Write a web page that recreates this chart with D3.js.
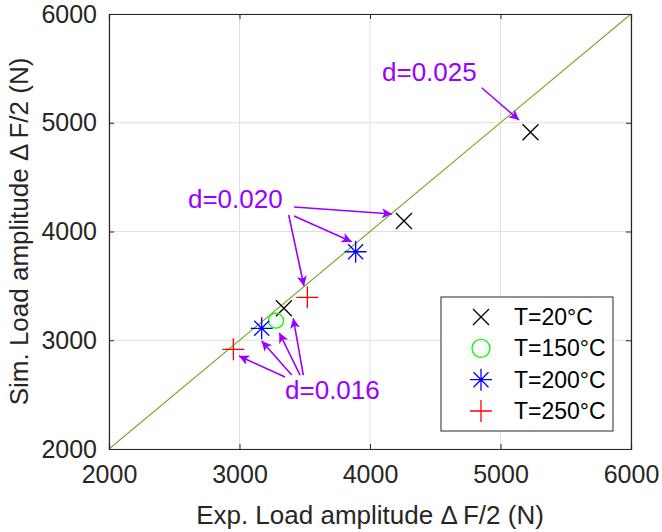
<!DOCTYPE html>
<html><head><meta charset="utf-8">
<script src="https://cdn.jsdelivr.net/npm/d3@7"></script>
<style>body{margin:0;background:#fff}svg{display:block}text{font-family:"Liberation Sans",Arial,sans-serif;}</style>
</head><body><div id="chart"></div>
<script>
// ---- data ----
const xTicks = [2000, 3000, 4000, 5000, 6000];
const yTicks = [2000, 3000, 4000, 5000, 6000];
const seriesNames = ["T=20°C", "T=150°C", "T=200°C", "T=250°C"];
const seriesMarkers = ["x", "o", "*", "+"];
const seriesColors = ["#000000", "#00ff00", "#0000ff", "#ff0000"];
const expT20 = [5230, 4260, 3340];
const simT20 = [4912, 4097, 3295];
const expT150 = [3280];
const simT150 = [3180];
const expT200 = [3170, 3890];
const simT200 = [3110, 3814];
const expT250 = [3520, 2953];
const simT250 = [3395, 2917];
const annLabels = ["d=0.025", "d=0.020", "d=0.016"];
const annTextX = [4092, 2605, 3349];
const annTextY = [5384, 4216, 2460];
// arrows: start (x0,y0) -> tip (x1,y1), data units
const arrX0 = [4856, 3418, 3418, 3377, 3349, 3400, 3464, 3489];
const arrY0 = [5322, 4225, 4142, 4152, 2662, 2680, 2680, 2680];
const arrX1 = [5142, 4169, 3860, 3494, 2996, 3170, 3305, 3412];
const arrY1 = [5025, 4161, 3906, 3499, 2855, 2993, 3069, 3202];

const W = 662, H = 532;
const m = {l: 109, t: 14, r: 31, b: 83};
const axisCol = "#262626";
const annCol = "#9900ff";

const svg = d3.select("#chart").append("svg").attr("width", W).attr("height", H);
const x = d3.scaleLinear().domain([2000, 6000]).range([m.l, W - m.r]);
const y = d3.scaleLinear().domain([2000, 6000]).range([H - m.b, m.t]);

// grid
svg.append("g").selectAll("line").data(xTicks).join("line")
  .attr("x1", d => x(d)).attr("x2", d => x(d)).attr("y1", y(2000)).attr("y2", y(6000))
  .attr("stroke", "#dfdfdf").attr("stroke-width", 1);
svg.append("g").selectAll("line").data(yTicks).join("line")
  .attr("y1", d => y(d)).attr("y2", d => y(d)).attr("x1", x(2000)).attr("x2", x(6000))
  .attr("stroke", "#dfdfdf").attr("stroke-width", 1);

// diagonal
svg.append("line").attr("x1", x(2000)).attr("y1", y(2000)).attr("x2", x(6000)).attr("y2", y(6000))
  .attr("stroke", "#77ac30").attr("stroke-width", 1.2);

// axes
const tl = 5;
const gx = svg.append("g").attr("transform", `translate(0,${y(2000)})`)
  .call(d3.axisBottom(x).tickValues(xTicks).tickSize(-tl).tickPadding(16).tickFormat(d3.format("d")));
const gx2 = svg.append("g").attr("transform", `translate(0,${y(6000)})`)
  .call(d3.axisTop(x).tickValues(xTicks).tickSize(-tl).tickFormat(""));
const gy = svg.append("g").attr("transform", `translate(${x(2000)},0)`)
  .call(d3.axisLeft(y).tickValues(yTicks).tickSize(-tl).tickPadding(12).tickFormat(d3.format("d")));
const gy2 = svg.append("g").attr("transform", `translate(${x(6000)},0)`)
  .call(d3.axisRight(y).tickValues(yTicks).tickSize(-tl).tickFormat(""));
[gx, gx2, gy, gy2].forEach(g => {
  g.select(".domain").attr("stroke", axisCol).attr("stroke-width", 1.2);
  g.selectAll(".tick line").attr("stroke", axisCol).attr("stroke-width", 1);
  g.selectAll(".tick text").attr("fill", axisCol).attr("font-size", 25).attr("font-family", "Liberation Sans, Arial, sans-serif");
});

// axis labels
svg.append("text").attr("x", x(4000)).attr("y", 524).attr("text-anchor", "middle")
  .attr("font-size", 26).attr("fill", axisCol).text("Exp. Load amplitude \u0394\u2009F/2 (N)");
svg.append("text").attr("transform", `translate(28,${(y(2000)+y(6000))/2}) rotate(-90)`).attr("text-anchor", "middle")
  .attr("font-size", 26).attr("fill", axisCol).text("Sim. Load amplitude \u0394\u2009F/2 (N)");

// marker drawing
function marker(g, type, color, cx, cy, s) {
  const p = d3.path();
  if (type === "x") {
    const h = 8;
    p.moveTo(cx - h, cy - h); p.lineTo(cx + h, cy + h);
    p.moveTo(cx - h, cy + h); p.lineTo(cx + h, cy - h);
  } else if (type === "+") {
    const h = 11;
    p.moveTo(cx - h, cy); p.lineTo(cx + h, cy);
    p.moveTo(cx, cy - h); p.lineTo(cx, cy + h);
  } else if (type === "*") {
    const h = 11, d = 7.5;
    p.moveTo(cx - h, cy); p.lineTo(cx + h, cy);
    p.moveTo(cx, cy - h); p.lineTo(cx, cy + h);
    p.moveTo(cx - d, cy - d); p.lineTo(cx + d, cy + d);
    p.moveTo(cx - d, cy + d); p.lineTo(cx + d, cy - d);
  }
  if (type === "o") {
    g.append("circle").attr("cx", cx).attr("cy", cy).attr("r", s || 8)
      .attr("fill", "none").attr("stroke", color).attr("stroke-width", 1.3);
  } else {
    g.append("path").attr("d", p.toString()).attr("fill", "none").attr("stroke", color).attr("stroke-width", 1.3);
  }
}

const seriesX = [expT20, expT150, expT200, expT250];
const seriesY = [simT20, simT150, simT200, simT250];
const gm = svg.append("g");
seriesX.forEach((xs, i) => {
  xs.forEach((v, j) => marker(gm, seriesMarkers[i], seriesColors[i], x(v), y(seriesY[i][j]), 7.5));
});

// annotations
const defs = svg.append("defs");
defs.append("marker").attr("id", "ah").attr("viewBox", "0 0 10 10").attr("refX", 10).attr("refY", 5)
  .attr("markerUnits", "userSpaceOnUse").attr("markerWidth", 13).attr("markerHeight", 10).attr("orient", "auto")
  .append("path").attr("d", "M0,0 L10,5 L0,10 L2.5,5 Z").attr("fill", annCol);
const ga = svg.append("g");
arrX0.forEach((v, i) => {
  ga.append("line").attr("x1", x(v)).attr("y1", y(arrY0[i])).attr("x2", x(arrX1[i])).attr("y2", y(arrY1[i]))
    .attr("stroke", annCol).attr("stroke-width", 1.6).attr("marker-end", "url(#ah)");
});
annLabels.forEach((t, i) => {
  ga.append("text").attr("x", x(annTextX[i])).attr("y", y(annTextY[i])).attr("font-size", 26)
    .attr("fill", annCol).text(t);
});

// legend
const lg = svg.append("g");
lg.append("rect").attr("x", 441).attr("y", 297).attr("width", 172).attr("height", 134)
  .attr("fill", "#fff").attr("stroke", axisCol).attr("stroke-width", 1);
const rowY = d3.scalePoint().domain(seriesNames).range([317, 411]);
seriesNames.forEach((n, i) => {
  marker(lg, seriesMarkers[i], seriesColors[i], 481, rowY(n), 9);
  lg.append("text").attr("x", 514).attr("y", rowY(n) + 8).attr("font-size", 23).attr("fill", "#000").text(n);
});
</script></body></html>
